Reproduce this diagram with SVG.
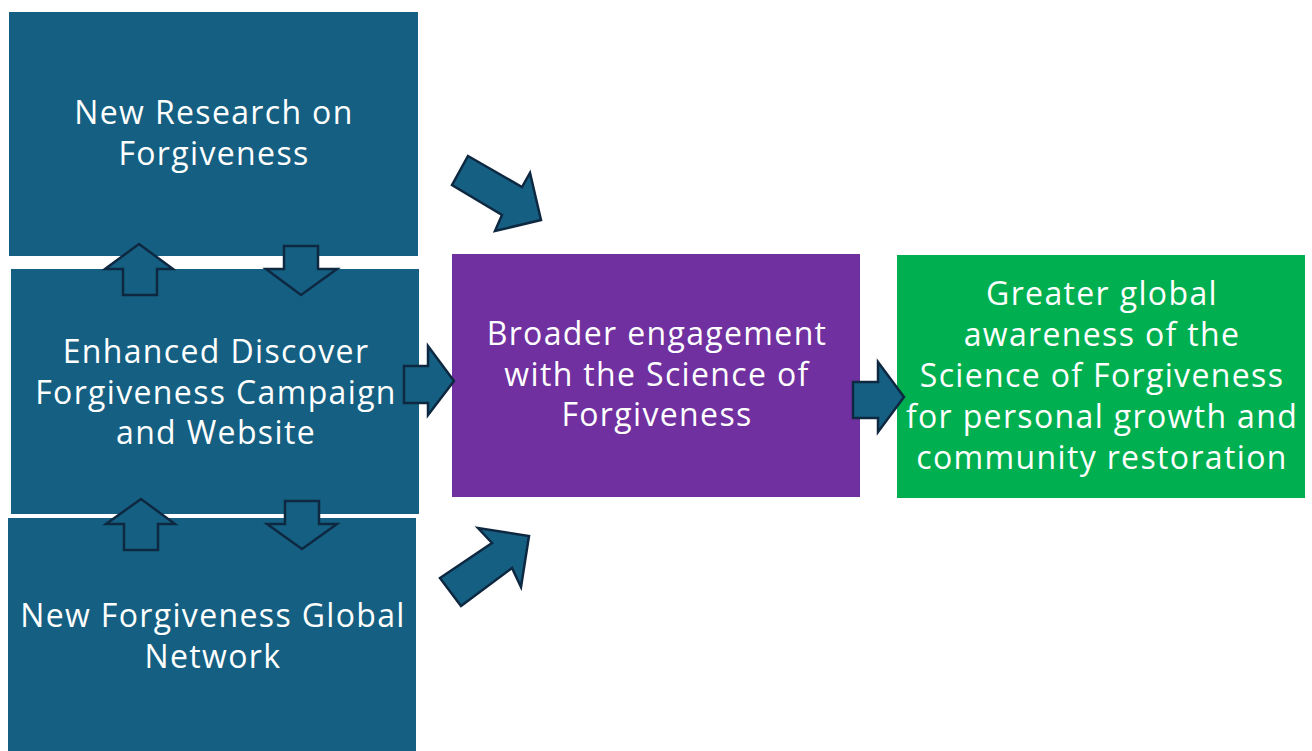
<svg xmlns="http://www.w3.org/2000/svg" width="1312" height="751" viewBox="0 0 1312 751">
  <style>
    .box { stroke: none; }
    .blue { fill: #156082; }
    .purple { fill: #7030A0; }
    .green { fill: #00B050; }
    .lbl { font-family: "Open Sans", "Noto Sans", sans-serif; font-size: 32px; letter-spacing: 1.35px; fill: #FFFFFF; text-anchor: middle; }
    .arrow { fill: #156082; stroke: #0E2841; stroke-width: 2.5; stroke-linejoin: miter; }
  </style>

  <rect width="1312" height="751" fill="#FFFFFF"/>

  <g id="node-research">
    <rect class="box blue" x="9" y="12" width="409" height="244"/>
    <text class="lbl" x="214" y="124">New Research on</text>
    <text class="lbl" x="214" y="165">Forgiveness</text>
  </g>

  <g id="node-campaign">
    <rect class="box blue" x="11" y="269" width="408" height="245"/>
    <text class="lbl" x="216" y="363">Enhanced Discover</text>
    <text class="lbl" x="216" y="404">Forgiveness Campaign</text>
    <text class="lbl" x="216" y="444">and Website</text>
  </g>

  <g id="node-network">
    <rect class="box blue" x="8" y="518" width="408" height="233"/>
    <text class="lbl" x="213" y="627">New Forgiveness Global</text>
    <text class="lbl" x="213" y="668">Network</text>
  </g>

  <g id="node-engagement">
    <rect class="box purple" x="452" y="254" width="408" height="243"/>
    <text class="lbl" x="657" y="345">Broader engagement</text>
    <text class="lbl" x="657" y="386">with the Science of</text>
    <text class="lbl" x="657" y="426">Forgiveness</text>
  </g>

  <g id="node-awareness">
    <rect class="box green" x="897" y="255" width="408" height="243"/>
    <text class="lbl" x="1102" y="305">Greater global</text>
    <text class="lbl" x="1102" y="346">awareness of the</text>
    <text class="lbl" x="1102" y="387">Science of Forgiveness</text>
    <text class="lbl" x="1102" y="428">for personal growth and</text>
    <text class="lbl" x="1102" y="469">community restoration</text>
  </g>

  <g id="connectors">
    <!-- vertical block arrows between the left column boxes -->
    <polygon class="arrow" points="139,244 173,269 157,269 157,295 123,295 123,269 105,269"/>
    <polygon class="arrow" points="284,246 318,246 318,269 337,269 301,295 266,269 284,269"/>
    <polygon class="arrow" points="141,499 175,524 158,524 158,550 124,550 124,524 106,524"/>
    <polygon class="arrow" points="285,501 319,501 319,524 337,524 302,549 267,524 285,524"/>
    <!-- campaign to engagement -->
    <polygon class="arrow" points="404,366 428,366 428,346 454,381 428,415 428,403 404,403"/>
    <!-- research to engagement (diagonal) -->
    <polygon class="arrow" points="468,156 522,187 530,173 541,220 495,231 502,215 452,185"/>
    <!-- network to engagement (diagonal) -->
    <polygon class="arrow" points="440,578 492,543 478,528 529,536 521,587 512,568 461,606"/>
    <!-- engagement to awareness -->
    <polygon class="arrow" points="853,382 878,382 878,362 904,397 878,432 878,418 853,418"/>
  </g>
</svg>
